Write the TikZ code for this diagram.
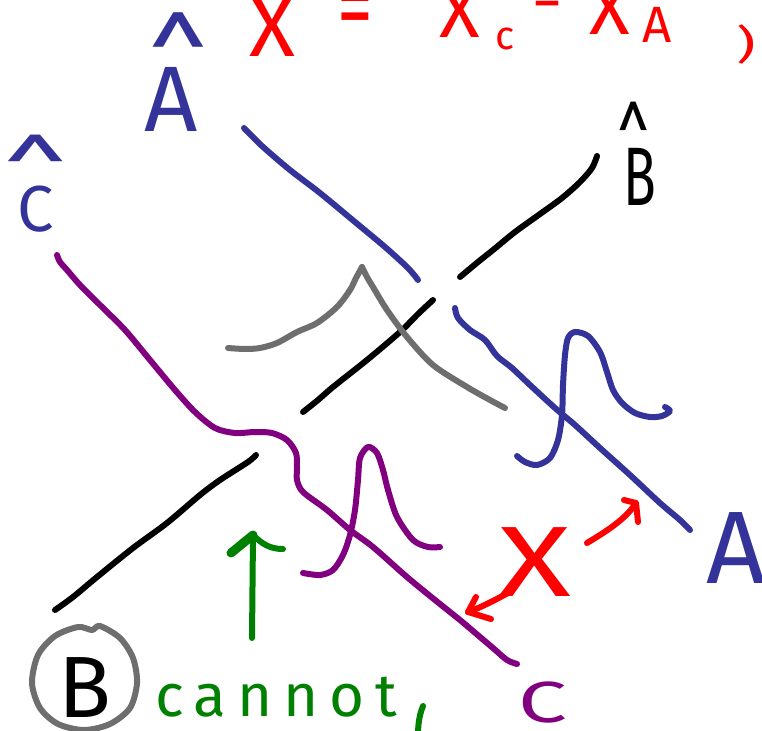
\documentclass[tikz,border=0pt]{standalone}
\usepackage{fontspec}
\setmainfont{Fira Sans}
\definecolor{pblue}{RGB}{51,51,153}
\definecolor{pred}{RGB}{255,0,0}
\definecolor{ppurple}{RGB}{128,0,128}
\definecolor{pgreen}{RGB}{0,128,0}
\definecolor{pgrey}{RGB}{110,110,110}
\tikzset{
  pen/.style={line width=6pt, line cap=round, line join=round},
  lbl/.style={inner sep=0pt, outer sep=0pt},
}
\newcommand{\fs}[1]{\fontsize{#1}{#1}\selectfont}
% letter with a hand-drawn style hat: #1 shift*2, #2 raise, #3 xscale, #4 yscale, #5 letter
\newcommand{\withhat}[5]{\ooalign{\hfil\hspace{#1}\raisebox{#2}{\fs{85}\scalebox{#3}[#4]{\textasciicircum}}\hfil\cr\hfil#5\hfil\cr}}
\begin{document}
\begin{tikzpicture}[x=1pt,y=-1pt]
\useasboundingbox (0,0) rectangle (762,730);

% ---------- labels ----------
\node[lbl, pblue, anchor=south, font=\fs{93}] (labA) at (171,132) {\withhat{14pt}{27pt}{1.3}{1.3}{A}};
\node[lbl, pblue, anchor=south, font=\fs{65}] (labC) at (36,232) {\withhat{0pt}{24.5pt}{1.4}{1.0}{C}};
\node[lbl, black, anchor=south, font=\fs{83}] (labB) at (640,205) {\withhat{-12pt}{27pt}{0.7}{1.07}{\scalebox{0.65}[1]{B}}};
\node[lbl, pblue, anchor=south, font=\fs{103}] (labA2) at (736,583) {A};
\node[lbl, ppurple, anchor=south, font=\fs{58}] (labC2) at (543,723) {\scalebox{1.5}[1]{C}};
\node[lbl, black, anchor=south, font=\fs{87}] (labB2) at (85,717) {B};
\node[lbl, pred, font=\fs{100}] (labX) at (535,562) {\scalebox{1.35}[1]{X}};

% top formula
\node[lbl, pred, anchor=south, font=\fs{85}] (fX1) at (272,57) {X};
\node[lbl, pred, font=\fs{65}] (feq) at (355,17) {\scalebox{1.1}[1.5]{=}};
\node[lbl, pred, anchor=south, font=\fs{75}] (fX2) at (460,38) {X};
\node[lbl, pred, anchor=base, font=\fs{40}] (fc) at (505,50) {c};
\node[lbl, pred, font=\fs{60}] (fminus) at (547,12) {−};
\node[lbl, pred, anchor=south, font=\fs{75}] (fX3) at (610,35) {X};
\node[lbl, pred, anchor=south, font=\fs{51}] (fA) at (657,43) {A};
\node[lbl, pred, font=\fs{40}] (fpar) at (746,45) {\scalebox{1.5}[1]{)}};

\node[lbl, pgreen, anchor=base west, font=\fs{60}\addfontfeature{LetterSpace=18}] (cannot) at (155,716) {cannot};

% ---------- strokes ----------
% blue line A-A
\draw[pen, pblue] plot[smooth] coordinates {(244,128) (262,146) (290,170) (320,193) (355,222) (385,247) (408,268) (418,280)};
\draw[pen, pblue] plot[smooth] coordinates {(455,308) (458,318) (470,330) (485,340) (497,356) (512,368) (530,385) (555,408) (575,425) (600,448) (630,475) (660,503) (680,520) (690,530)};
% blue peak
\draw[pen, pblue] plot[smooth] coordinates {(517,456) (525,462) (537,465) (550,458) (558,440) (562,415) (563,385) (565,355) (568,338) (575,332) (588,336) (600,352) (607,372) (613,390) (622,403) (635,413) (650,417) (662,416) (670,411) (665,407)};

% black lines
\draw[pen, black] plot[smooth] coordinates {(460,277) (478,262) (493,250) (515,232) (540,214) (562,198) (580,182) (592,168) (597,156)};
\draw[pen, black] plot[smooth] coordinates {(433,300) (418,314) (400,332) (367,360) (333,387) (318,400) (303,412)};
\draw[pen, black] plot[smooth] coordinates {(256,455) (248,462) (220,480) (200,495) (167,523) (133,548) (97,577) (73,597) (55,610)};

% grey peak
\draw[pen, pgrey] plot[smooth] coordinates {(228,348) (245,349) (260,348) (277,343) (297,332) (317,323) (337,307) (350,290) (356,278) (362,267)};
\draw[pen, pgrey] plot[smooth] coordinates {(362,267) (367,277) (373,287) (387,310) (407,337) (433,365) (467,387) (490,400) (505,408)};

% grey circle around B
\draw[pen, pgrey] plot[smooth cycle] coordinates {(100,626) (120,638) (133,658) (137,683) (130,708) (110,724) (84,730) (58,724) (40,708) (32,683) (38,655) (55,636) (78,627) (92,630)};

% purple curve C-C
\draw[pen, ppurple] plot[smooth] coordinates {(57,255) (60,262) (67,270) (80,285) (100,305) (125,330) (150,360) (175,390) (195,412) (215,428) (235,433) (255,432) (272,433) (287,440) (296,453) (297,468) (297,480) (303,492) (327,510) (350,530) (373,547) (407,577) (435,600) (460,620) (480,637) (493,648) (507,660) (517,664)};
% purple peak
\draw[pen, ppurple] plot[smooth] coordinates {(303,573) (320,575) (333,570) (343,555) (350,535) (355,510) (358,480) (360,458) (368,447) (377,453) (383,470) (388,490) (397,517) (413,540) (428,547) (440,547)};

% green arrow
\coordinate (gtip) at (253,535);
\coordinate (gtail) at (252,638);
\draw[pen, pgreen] (gtail) -- (gtip);
\draw[pgreen, line width=9pt, line cap=round] (gtip) -- (231,553);
\draw[pen, pgreen] (gtip) .. controls (262,544) and (270,549) .. (283,549);
% green partial letter
\draw[pen, pgreen] (423,706) .. controls (419,716) and (418,725) .. (418,736);

% red double arrow
\coordinate (rtipR) at (636,503);
\coordinate (rstartR) at (587,543);
\draw[pen, pred] (rstartR) .. controls (605,532) and (625,520) .. (rtipR);
\draw[pen, pred] (624,500) -- (rtipR) -- (638,522);
\coordinate (rtipL) at (468,612);
\coordinate (rstartL) at (508,593);
\draw[pen, pred] (rstartL) .. controls (495,600) and (482,607) .. (rtipL);
\draw[pen, pred] (476,597) -- (rtipL) -- (491,619);
\end{tikzpicture}
\end{document}
